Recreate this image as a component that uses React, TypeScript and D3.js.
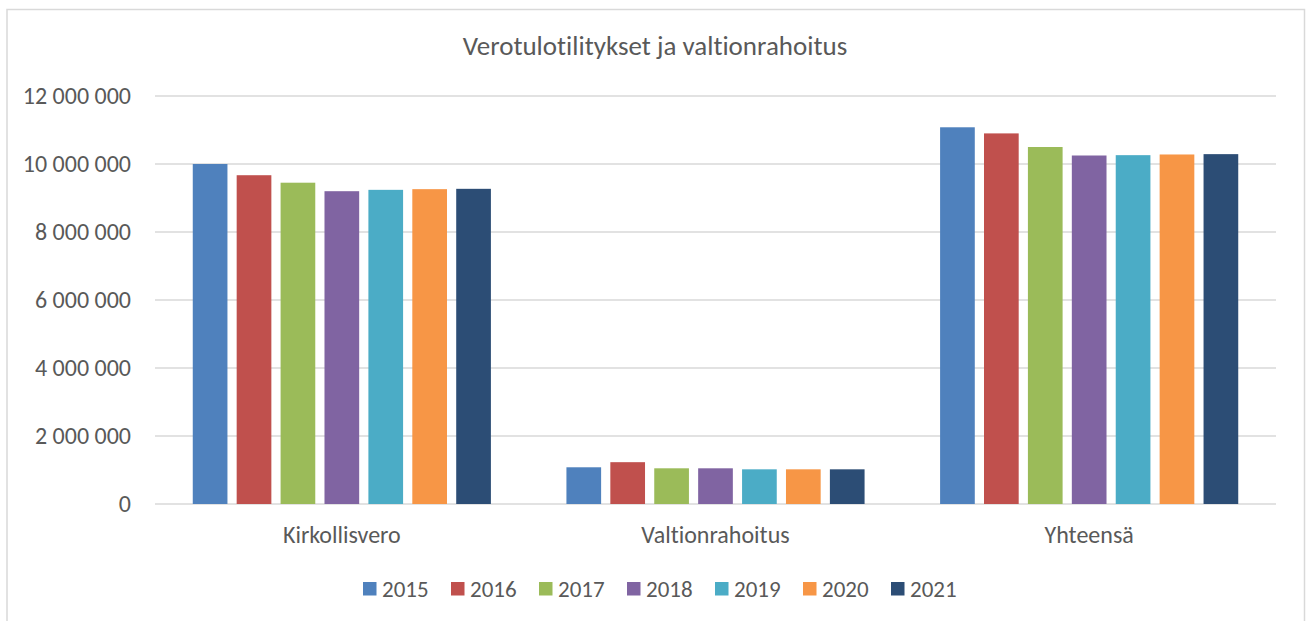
import React, { useEffect, useRef } from 'react';
import * as d3 from 'd3';

const categories = ['Kirkollisvero', 'Valtionrahoitus', 'Yhteensä'];
const years = ['2015', '2016', '2017', '2018', '2019', '2020', '2021'];
const colors = ['#4f81bd', '#c0504d', '#9bbb59', '#8064a2', '#4bacc6', '#f79646', '#2c4d75'];

// values per year, in category order
const kirkollisvero = [10000000, 9670000, 9450000, 9200000, 9240000, 9260000, 9270000];
const valtionrahoitus = [1080000, 1230000, 1050000, 1050000, 1020000, 1020000, 1020000];
const yhteensa = [11080000, 10900000, 10500000, 10250000, 10260000, 10280000, 10290000];
const seriesByCategory = [kirkollisvero, valtionrahoitus, yhteensa];

const yTicks = [0, 2000000, 4000000, 6000000, 8000000, 10000000, 12000000];

const W = 1306;
const H = 621;
const FONT = 'Carlito, Calibri, Lato, sans-serif';

export default function App() {
  const svgRef = useRef<SVGSVGElement>(null);

  useEffect(() => {
    if (!svgRef.current) return;
    const svg = d3.select(svgRef.current)
      .style('font-variant-ligatures', 'none');
    svg.selectAll('*').remove();

    const plot = { left: 155, right: 1276, top: 96, bottom: 504 };

    // chart frame
    svg.append('rect')
      .attr('x', 7).attr('y', 9.5)
      .attr('width', 1297.5).attr('height', 640)
      .attr('fill', '#fff')
      .attr('stroke', '#d9d9d9')
      .attr('stroke-width', 1.5);

    svg.append('text')
      .attr('x', 655).attr('y', 55)
      .attr('text-anchor', 'middle')
      .attr('fill', '#595959')
      .attr('font-size', '27px')
      .attr('font-family', FONT)
      .text('Verotulotilitykset ja valtionrahoitus');

    const y = d3.scaleLinear().domain([0, 12000000]).range([plot.bottom, plot.top]);
    const x0 = d3.scaleBand<string>().domain(categories).range([plot.left, plot.right]).padding(0);
    const x1 = d3.scaleBand<string>().domain(years).range([0, x0.bandwidth()])
      .paddingInner(0.21).paddingOuter(0.86);

    // gridlines
    svg.append('g').selectAll('line')
      .data(yTicks)
      .join('line')
      .attr('x1', plot.left).attr('x2', plot.right)
      .attr('y1', d => y(d)).attr('y2', d => y(d))
      .attr('stroke', '#d9d9d9')
      .attr('stroke-width', 1.5);

    // y labels
    const fmt = (v: number) => d3.format(',')(v).replace(/,/g, ' ');
    svg.append('g').selectAll('text')
      .data(yTicks)
      .join('text')
      .attr('x', 131)
      .attr('y', d => y(d))
      .attr('dy', '0.35em')
      .attr('text-anchor', 'end')
      .attr('fill', '#595959')
      .attr('font-size', '24px')
      .attr('font-family', FONT)
      .text(d => fmt(d));

    // bars
    categories.forEach((cat, ci) => {
      const g = svg.append('g').attr('transform', `translate(${x0(cat)},0)`);
      g.selectAll('rect')
        .data(seriesByCategory[ci].map((v, i) => ({ year: years[i], v, c: colors[i] })))
        .join('rect')
        .attr('x', d => x1(d.year)!)
        .attr('y', d => y(d.v))
        .attr('width', x1.bandwidth())
        .attr('height', d => y(0) - y(d.v))
        .attr('fill', d => d.c);

      svg.append('text')
        .attr('x', x0(cat)! + x0.bandwidth() / 2)
        .attr('y', 543)
        .attr('text-anchor', 'middle')
        .attr('fill', '#595959')
        .attr('font-size', '24px')
        .attr('font-family', FONT)
        .text(cat);
    });

    // legend
    const itemW = 88;
    const legendX = 363;
    const lg = svg.append('g');
    years.forEach((yr, i) => {
      const gx = legendX + i * itemW;
      lg.append('rect')
        .attr('x', gx).attr('y', 582)
        .attr('width', 13.5).attr('height', 13.5)
        .attr('fill', colors[i]);
      lg.append('text')
        .attr('x', gx + 19).attr('y', 596.5)
        .attr('fill', '#595959')
        .attr('font-size', '23px')
        .attr('font-family', FONT)
        .text(yr);
    });
  }, []);

  return (
    <div style={{ position: 'absolute', left: 0, top: 0, width: W, height: H, background: '#fff' }}>
      <svg ref={svgRef} width={W} height={H} />
    </div>
  );
}
